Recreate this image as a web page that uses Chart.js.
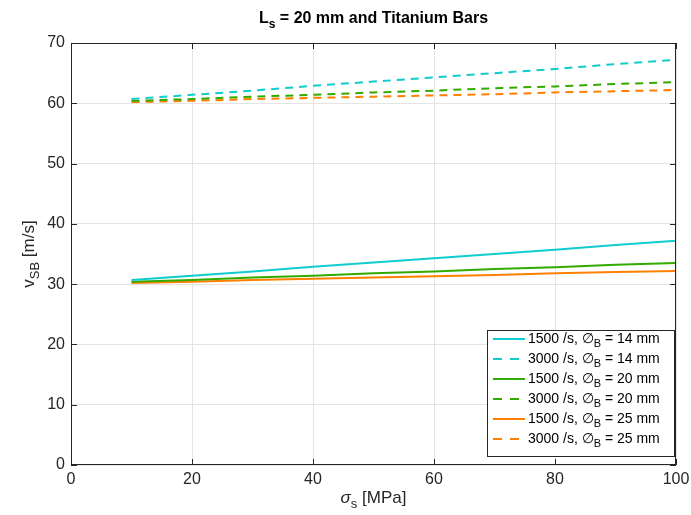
<!DOCTYPE html>
<html>
<head>
<meta charset="utf-8">
<script src="https://cdn.jsdelivr.net/npm/chart.js@4"></script>
<style>
  html, body { margin: 0; padding: 0; background: #fff; }
  #wrap { width: 691px; height: 515px; }
</style>
</head>
<body>
<div id="wrap"><canvas id="chart" width="691" height="515"></canvas></div>
<script>
// --- data ---
const stress = [10, 20, 30, 40, 50, 60, 70, 80, 90, 100]; // sigma_s [MPa]
const v1500_14 = [30.7, 31.4, 32.1, 32.9, 33.6, 34.3, 35.0, 35.7, 36.5, 37.2];
const v3000_14 = [60.7, 61.4, 62.1, 62.9, 63.6, 64.3, 65.0, 65.7, 66.5, 67.2];
const v1500_20 = [30.4, 30.7, 31.1, 31.4, 31.8, 32.1, 32.5, 32.8, 33.2, 33.5];
const v3000_20 = [60.4, 60.7, 61.1, 61.4, 61.8, 62.1, 62.5, 62.8, 63.2, 63.5];
const v1500_25 = [30.2, 30.4, 30.7, 30.9, 31.1, 31.3, 31.5, 31.8, 32.0, 32.2];
const v3000_25 = [60.2, 60.4, 60.7, 60.9, 61.1, 61.3, 61.5, 61.8, 62.0, 62.2];
const xTicks = [0, 20, 40, 60, 80, 100];
const yTicks = [0, 10, 20, 30, 40, 50, 60, 70];

const CYAN = '#10cccc';
const GREEN = '#33aa00';
const ORANGE = '#ff8000';
const INK = '#262626';
const FONT = '"Liberation Sans", Arial, Helvetica, sans-serif';

const series = [
  { rate: '1500', dia: '14', data: v1500_14, color: CYAN, dash: [] },
  { rate: '3000', dia: '14', data: v3000_14, color: CYAN, dash: [8, 6] },
  { rate: '1500', dia: '20', data: v1500_20, color: GREEN, dash: [] },
  { rate: '3000', dia: '20', data: v3000_20, color: GREEN, dash: [8, 6] },
  { rate: '1500', dia: '25', data: v1500_25, color: ORANGE, dash: [] },
  { rate: '3000', dia: '25', data: v3000_25, color: ORANGE, dash: [8, 6] }
];

// draw text made of pieces, some of them subscripts
function richWidth(ctx, parts, size) {
  let w = 0;
  parts.forEach(p => {
    ctx.font = (p.style || '') + ' ' + (p.sub ? Math.round(size * 0.75) : size) + 'px ' + FONT;
    w += ctx.measureText(p.t).width;
  });
  return w;
}
function drawRich(ctx, parts, x, y, size, align) {
  let w = richWidth(ctx, parts, size);
  let cx = align === 'center' ? x - w / 2 : (align === 'right' ? x - w : x);
  ctx.textAlign = 'left';
  ctx.textBaseline = 'alphabetic';
  parts.forEach(p => {
    ctx.font = (p.style || '') + ' ' + (p.sub ? Math.round(size * 0.75) : size) + 'px ' + FONT;
    ctx.fillText(p.t, cx, p.sub ? y + size * 0.3 : y);
    cx += ctx.measureText(p.t).width;
  });
}

const decorations = {
  id: 'decorations',
  afterDraw(chart) {
    const ctx = chart.ctx;
    const a = chart.chartArea;
    const xs = chart.scales.x, ys = chart.scales.y;
    ctx.save();
    ctx.fillStyle = INK;
    ctx.strokeStyle = INK;
    ctx.lineWidth = 1;

    // box and inward ticks
    ctx.strokeRect(a.left + 0.5, a.top + 0.5, a.right - a.left - 1, a.bottom - a.top - 1);
    ctx.beginPath();
    xTicks.forEach(v => {
      const px = Math.round(xs.getPixelForValue(v)) + 0.5;
      ctx.moveTo(px, a.bottom); ctx.lineTo(px, a.bottom - 6);
      ctx.moveTo(px, a.top); ctx.lineTo(px, a.top + 6);
    });
    yTicks.forEach(v => {
      const py = Math.round(ys.getPixelForValue(v)) + 0.5;
      ctx.moveTo(a.left, py); ctx.lineTo(a.left + 6, py);
      ctx.moveTo(a.right, py); ctx.lineTo(a.right - 6, py);
    });
    ctx.stroke();

    // title
    ctx.fillStyle = '#000';
    drawRich(ctx, [
      { t: 'L', style: 'bold' }, { t: 's', style: 'bold', sub: true },
      { t: ' = 20 mm and Titanium Bars', style: 'bold' }
    ], (a.left + a.right) / 2, 23, 16, 'center');

    // axis labels
    ctx.fillStyle = INK;
    drawRich(ctx, [
      { t: 'σ', style: 'italic' }, { t: 's', sub: true }, { t: ' [MPa]' }
    ], (a.left + a.right) / 2, 503, 17, 'center');
    ctx.save();
    ctx.translate(34, (a.top + a.bottom) / 2);
    ctx.rotate(-Math.PI / 2);
    drawRich(ctx, [{ t: 'v' }, { t: 'SB', sub: true }, { t: ' [m/s]' }], 0, 0, 17, 'center');
    ctx.restore();

    // legend
    const lw = 187, lh = 126;
    const lx = a.right - 2 - lw, ly = a.bottom - 9 - lh;
    ctx.fillStyle = '#fff';
    ctx.fillRect(lx, ly, lw, lh);
    ctx.strokeStyle = INK;
    ctx.lineWidth = 1;
    ctx.strokeRect(Math.round(lx) + 0.5, Math.round(ly) + 0.5, lw, lh);
    series.forEach((s, i) => {
      const rowY = ly + 9 + i * 20;
      ctx.strokeStyle = s.color;
      ctx.lineWidth = 2;
      ctx.setLineDash(s.dash.length ? [9, 8] : []);
      ctx.beginPath();
      ctx.moveTo(lx + 6, rowY);
      ctx.lineTo(lx + 38, rowY);
      ctx.stroke();
      ctx.setLineDash([]);
      ctx.fillStyle = '#000';
      drawRich(ctx, [
        { t: s.rate + ' /s, ∅' }, { t: 'B', sub: true }, { t: ' = ' + s.dia + ' mm' }
      ], lx + 41, rowY + 4, 14, 'left');
    });
    ctx.restore();
  }
};

new Chart(document.getElementById('chart'), {
  type: 'line',
  data: {
    labels: stress,
    datasets: series.map(s => ({
      label: s.rate + ' /s, ' + s.dia + ' mm',
      data: s.data.map((v, i) => ({ x: stress[i], y: v })),
      borderColor: s.color,
      backgroundColor: s.color,
      borderWidth: 2,
      borderDash: s.dash,
      pointRadius: 0,
      tension: 0,
      fill: false
    }))
  },
  options: {
    responsive: false,
    animation: false,
    events: [],
    layout: { padding: { left: 0, top: 43, right: 15, bottom: 0 } },
    plugins: { legend: { display: false }, title: { display: false }, tooltip: { enabled: false } },
    scales: {
      x: {
        type: 'linear', min: 0, max: 100,
        afterBuildTicks: s => { s.ticks = xTicks.map(v => ({ value: v })); },
        afterFit: s => { s.height = 50; s.paddingLeft = 0; s.paddingRight = 0; },
        border: { display: false },
        grid: { color: '#e4e4e4', drawTicks: false },
        ticks: { color: INK, padding: 5, font: { family: FONT, size: 16 } }
      },
      y: {
        type: 'linear', min: 0, max: 70,
        afterBuildTicks: s => { s.ticks = yTicks.map(v => ({ value: v })); },
        afterFit: s => { s.width = 71; s.paddingTop = 0; s.paddingBottom = 0; },
        border: { display: false },
        grid: { color: '#e4e4e4', drawTicks: false },
        ticks: { color: INK, padding: 6, font: { family: FONT, size: 16 } }
      }
    }
  },
  plugins: [decorations]
});
</script>
</body>
</html>
